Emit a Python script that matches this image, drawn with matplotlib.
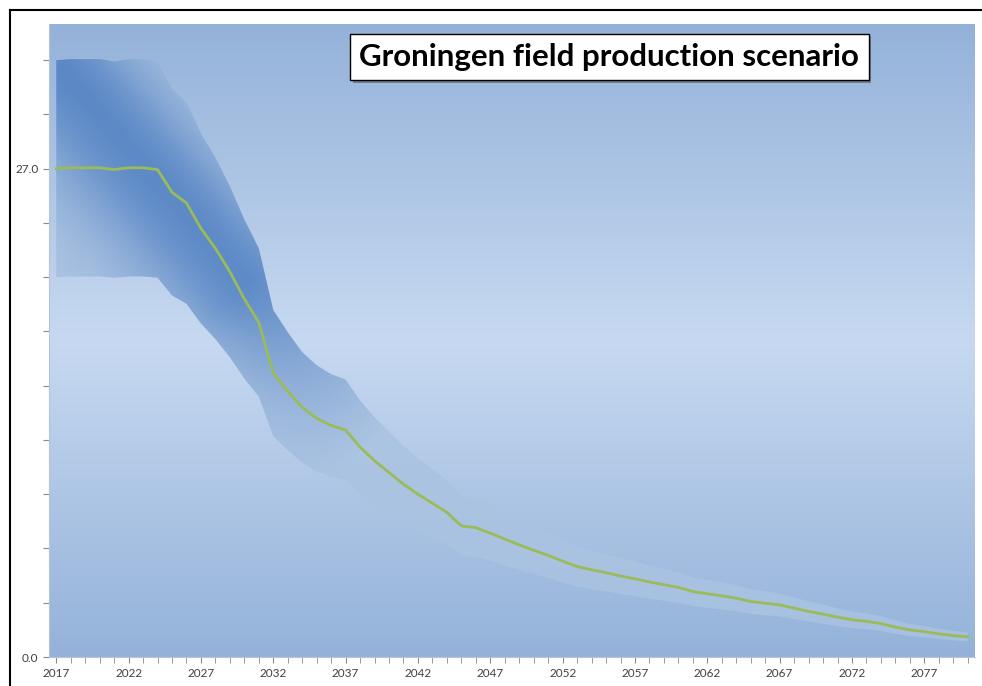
import numpy as np
import matplotlib
matplotlib.use("Agg")
import matplotlib.pyplot as plt
from matplotlib.lines import Line2D
import matplotlib.patheffects as pe

# Groningen gas production scenario (bcm/yr)
years = list(range(2017, 2081))
central = [27.0, 27.05, 27.05, 27.05, 26.95, 27.05, 27.05, 26.95,
           25.7, 25.1, 23.7, 22.6, 21.3, 19.8, 18.5, 15.7, 14.7, 13.8,
           13.2, 12.8, 12.55, 11.6, 10.85, 10.2, 9.55, 9.0, 8.5, 8.0,
           7.25, 7.15, 6.85, 6.52, 6.2, 5.9, 5.62, 5.3, 5.0, 4.82,
           4.66, 4.48, 4.32, 4.15, 4.0, 3.85, 3.62, 3.5, 3.38, 3.25,
           3.07, 2.97, 2.88, 2.7, 2.52, 2.37, 2.2, 2.06, 1.97, 1.85,
           1.65, 1.5, 1.4, 1.28, 1.18, 1.12]
upper = [33.0, 33.06, 33.06, 33.06, 32.93, 33.06, 33.06, 32.93,
         31.41, 30.67, 28.96, 27.62, 26.03, 24.2, 22.61, 19.19, 17.96, 16.86,
         16.13, 15.64, 15.34, 14.18, 13.26, 12.46, 11.67, 11.0, 10.39, 9.78,
         8.86, 8.74, 8.37, 7.97, 7.58, 7.21, 6.87, 6.48, 6.11, 5.89,
         5.69, 5.47, 5.28, 5.07, 4.89, 4.7, 4.42, 4.28, 4.13, 3.97,
         3.75, 3.63, 3.52, 3.3, 3.08, 2.9, 2.69, 2.52, 2.41, 2.26,
         2.02, 1.83, 1.71, 1.56, 1.44, 1.37]
lower = [21.01, 21.04, 21.04, 21.04, 20.97, 21.04, 21.04, 20.97,
         19.99, 19.53, 18.44, 17.58, 16.57, 15.4, 14.39, 12.21, 11.44, 10.74,
         10.27, 9.96, 9.76, 9.02, 8.44, 7.94, 7.43, 7.0, 6.61, 6.22,
         5.64, 5.56, 5.33, 5.07, 4.82, 4.59, 4.37, 4.12, 3.89, 3.75,
         3.63, 3.49, 3.36, 3.23, 3.11, 3.0, 2.82, 2.72, 2.63, 2.53,
         2.39, 2.31, 2.24, 2.1, 1.96, 1.84, 1.71, 1.6, 1.53, 1.44,
         1.28, 1.17, 1.09, 1.0, 0.92, 0.87]
title = "Groningen field production scenario"

plt.rcParams["font.family"] = ["Lato", "DejaVu Sans"]

fig = plt.figure(figsize=(9.82, 6.86), dpi=100)
ax = fig.add_axes([49/982, 1-657/686, (975-49)/982, (657-24)/686])
xmin, xmax, ymin, ymax = 2016.5, 2080.5, 0, 35
ax.set_xlim(xmin, xmax)
ax.set_ylim(ymin, ymax)

# background: vertical gradient, light in the middle
t = np.linspace(0, 1, 256)
top = np.array([0.580, 0.698, 0.851])
mid = np.array([0.780, 0.851, 0.945])
bg = np.where(t[:, None] < 0.5,
              top + (mid - top) * (t[:, None] / 0.5),
              mid + (top - mid) * ((t[:, None] - 0.5) / 0.5))
ax.imshow(bg[:, None, :], extent=[0, 1, 0, 1], transform=ax.transAxes,
          aspect="auto", zorder=0)

# band with a diagonal gradient fill (dark ridge top-left -> centre)
band = ax.fill_between(years, lower, upper, color="none", lw=0, zorder=1)
gx = np.linspace(xmin, xmax, 700)
gy = np.linspace(ymin, ymax, 500)
GX, GY = np.meshgrid(gx, gy)
px = 56 + (GX - 2017) * 14.4
py = 657 - GY * 18.07
d = np.array([190.0, 220.0]); d /= np.hypot(*d)
nrm = np.array([d[1], -d[0]])
rx, ry = px - 70, py - 80
s = rx * d[0] + ry * d[1]
n = rx * nrm[0] + ry * nrm[1]
width = np.where(n > 0, 65.0, 80.0)
w = np.exp(-(n / width) ** 2) * np.clip((470 - s) / 200.0, 0, 1)
light = np.array([0.67, 0.765, 0.885])
dark = np.array([0.35, 0.53, 0.775])
rgba = np.zeros(GX.shape + (4,))
rgba[..., :3] = light + (dark - light) * w[..., None]
rgba[..., 3] = 0.85 + 0.1 * w
im = ax.imshow(rgba, extent=[xmin, xmax, ymin, ymax], origin="lower",
               aspect="auto", zorder=1)
im.set_clip_path(band.get_paths()[0], transform=ax.transData)

ax.plot(years, central, color="#9bbb59", lw=2, zorder=3)

# axes styling
for side in ["top", "right"]:
    ax.spines[side].set_visible(False)
ax.spines["left"].set_color("#b8c4d6")
ax.spines["bottom"].set_color("#b8c4d6")
ax.set_yticks(np.arange(0, 34, 3))
ax.set_yticklabels(["0.0" if v == 0 else "27.0" if v == 27 else "" for v in range(0, 34, 3)])
ax.set_xticks(range(2017, 2081, 5))
ax.set_xticks(range(2017, 2081), minor=True)
ax.tick_params(axis="both", colors="#8a8a8a", labelcolor="#404040",
               labelsize=8.5, length=4, direction="out")
ax.tick_params(axis="x", which="minor", colors="#8a8a8a", length=4)
ax.tick_params(axis="x", pad=4)

# title box with a little shadow
ttl = ax.text(0.605, 0.948, title, transform=ax.transAxes, ha="center", va="center",
              fontsize=22.5, fontweight="bold", color="black", zorder=5,
              bbox=dict(boxstyle="square,pad=0.3", fc="white", ec="black", lw=1))
ttl.get_bbox_patch().set_path_effects(
    [pe.SimplePatchShadow(offset=(2, -2), shadow_rgbFace="#555555", alpha=0.6), pe.Normal()])

# outer frame lines (top and left)
fig.add_artist(Line2D([10/982, 1], [1-10/686, 1-10/686], color="black", lw=1.5,
                      transform=fig.transFigure))
fig.add_artist(Line2D([10/982, 10/982], [0, 1-10/686], color="black", lw=1.5,
                      transform=fig.transFigure))

fig.savefig("out.png", dpi=100)
